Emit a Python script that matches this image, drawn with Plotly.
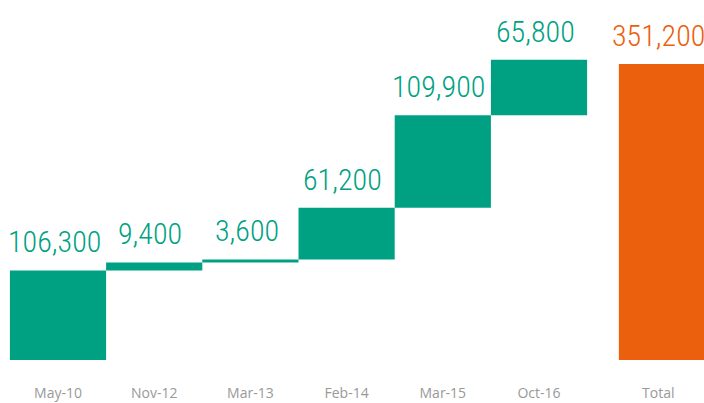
import numpy as np
import plotly.graph_objects as go

categories = ["May-10", "Nov-12", "Mar-13", "Feb-14", "Mar-15", "Oct-16"]
values = [106300, 9400, 3600, 61200, 109900, 65800]
value_labels = ["106,300", "9,400", "3,600", "61,200", "109,900", "65,800"]
total_category = "Total"
total_value = 351200
total_label = "351,200"

TEAL = "#00a183"
ORANGE = "#eb600c"
LABEL_FONT = "Roboto Condensed, Liberation Sans Narrow, Roboto, sans-serif"

n = len(categories)
xs = list(np.arange(n, dtype=float))
x_total = n + 0.33
all_x = xs + [x_total]

fig = go.Figure()
fig.add_trace(go.Waterfall(
    x=all_x,
    y=values + [total_value],
    measure=["relative"] * n + ["absolute"],
    width=[1.0] * (n + 1),
    increasing=dict(marker=dict(color=TEAL, line=dict(width=0))),
    totals=dict(marker=dict(color=ORANGE, line=dict(width=0))),
    connector=dict(visible=False),
    textposition="none",
    hoverinfo="x+y",
))

tops = list(np.cumsum(values)) + [total_value]
labels = value_labels + [total_label]
for i, (x, top, lab) in enumerate(zip(all_x, tops, labels)):
    fig.add_annotation(
        x=x - 0.04, y=top, text=lab, showarrow=False,
        yanchor="bottom", yshift=9, xshift=-5 if i == n else 0,
        font=dict(family=LABEL_FONT, size=30, weight=300,
                  color=ORANGE if i == n else TEAL),
    )

ymax = total_value * 360 / 296
fig.update_layout(
    width=704, height=403,
    margin=dict(l=0, r=0, t=0, b=43),
    paper_bgcolor="white", plot_bgcolor="white",
    showlegend=False,
    xaxis=dict(
        range=[-0.603, 6.715],
        tickmode="array",
        tickvals=xs + [x_total - 0.09],
        ticktext=categories + [total_category],
        showgrid=False, zeroline=False, showline=False, ticks="",
        tickfont=dict(family="Open Sans, sans-serif", size=14, color="#999999"),
        ticklabelstandoff=23,
        automargin=False,
    ),
    yaxis=dict(range=[0, ymax], visible=False, showgrid=False, zeroline=False,
               automargin=False),
)

fig.write_html("out.html", config={"displayModeBar": False},
               post_script="document.body.style.margin='0';")
